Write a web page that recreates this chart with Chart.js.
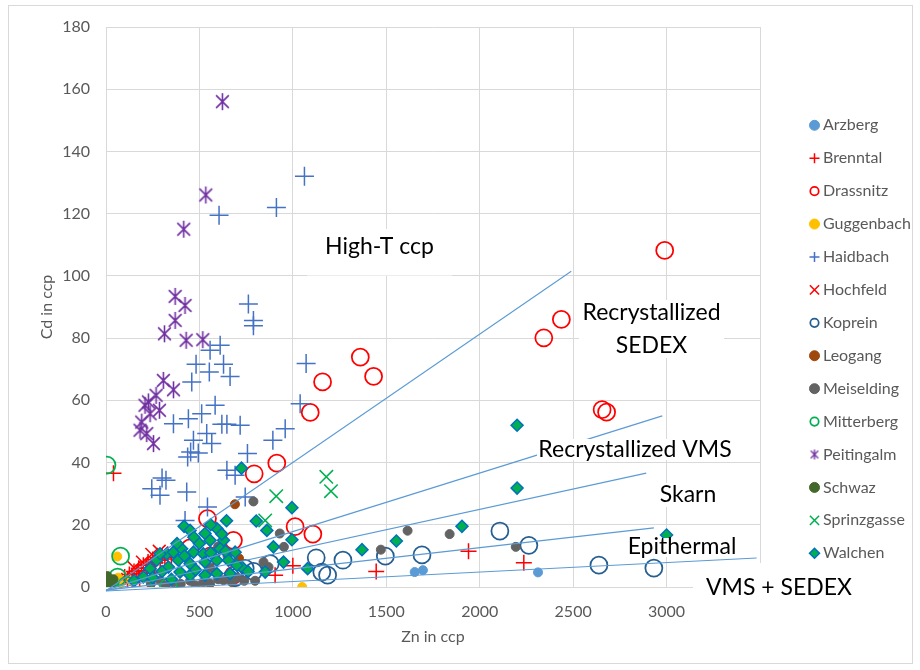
<!DOCTYPE html>
<html>
<head>
<meta charset="utf-8">
<script src="https://cdn.jsdelivr.net/npm/chart.js"></script>
<style>
  html, body { margin: 0; padding: 0; background: #ffffff; }
  canvas { display: block; }
</style>
</head>
<body>
<canvas id="chart" width="920" height="670"></canvas>
<script>
// Zn and Cd contents of chalcopyrite (ccp), one [Zn, Cd] pair per analysis
const arzberg = [[1652, 4.8], [1696, 5.4], [2312, 4.7]];
const brenntal = [
  [40, 36.6], [1000, 6.8], [905, 3.8], [1446, 5.0], [1940, 11.5], [2236, 7.8],
  [85, 2.0], [100, 3.2], [115, 2.6], [125, 4.0], [140, 3.4], [150, 5.0], [165, 4.3],
  [175, 6.0], [190, 5.2], [200, 7.0], [215, 6.2], [225, 8.0], [240, 7.2], [250, 8.8],
  [265, 7.8], [275, 9.4], [290, 8.6], [300, 10.0], [315, 9.0], [330, 10.5], [350, 9.6],
  [140, 1.5], [180, 2.5], [220, 3.5], [260, 4.5], [60, 1.0]
];
const drassnitz = [
  [2990, 108.2], [2437, 86.0], [2343, 80.1], [2655, 57.0], [2679, 56.2],
  [1361, 73.9], [1432, 67.7], [1159, 65.9], [1093, 56.1], [914, 39.8], [793, 36.4],
  [1012, 19.4], [1107, 17.0], [543, 22.0], [682, 15.0], [450, 12.6], [682, 3.8], [560, 10.0]
];
const guggenbach = [[60, 9.8], [1050, 0.0], [65, 3.0], [135, 2.0], [75, 1.0]];
const haidbach = [
  [605, 119.5], [912, 122], [1062, 132], [762, 91], [789, 85.7], [789, 84], [611, 77.7],
  [557, 76.1], [482, 71.6], [553, 69.1], [629, 71.6], [664, 67.7], [459, 65.9], [1071, 71.8],
  [1039, 58.9], [959, 50.9], [893, 47.2], [620, 52.3], [647, 52.3], [718, 52], [584, 58.4],
  [512, 55.7], [441, 54.1], [361, 52.5], [468, 47.2], [566, 46.1], [539, 49.3], [437, 41.8],
  [453, 43.4], [494, 43.1], [757, 42.9], [321, 34.3], [300, 35.0], [245, 31.6], [289, 29.5],
  [432, 30.5], [647, 37.5], [691, 35.9], [745, 28.9], [543, 25.7], [423, 21.4]
];
const hochfeld = [[245, 10.5], [195, 8.0], [285, 11.5], [150, 6.2]];
const koprein = [
  [2108, 18.0], [2263, 13.4], [2638, 7.0], [2932, 6.1], [1495, 9.9], [1691, 10.3],
  [1268, 8.6], [1186, 3.8], [1155, 4.8], [1125, 9.4], [879, 7.5], [745, 6.0], [790, 5.0], [690, 3.0]
];
const leogang = [[690, 26.6], [712, 9.2]];
const meiselding = [
  [789, 27.5], [930, 17.2], [952, 12.9], [1471, 12.0], [1614, 18.1], [1839, 17.0], [2193, 12.9],
  [843, 8.0], [870, 6.4], [798, 2.0], [673, 1.6], [629, 2.2], [557, 1.1], [240, 1.0], [290, 2.0],
  [320, 0.5], [360, 1.5], [400, 1.0], [450, 2.0], [480, 0.5], [520, 1.5], [600, 2.5], [700, 3.0],
  [740, 2.0], [600, 13.0], [650, 10.0], [560, 6.0]
];
const mitterberg = [[5, 39.2], [78, 9.9], [5, 0.0], [15, 1.0], [62, 3.2], [110, 0.5], [200, 0.0], [334, 0.0]];
const peitingalm = [
  [623, 156], [534, 126], [416, 115], [370, 93.4], [423, 90.5], [370, 85.7], [313, 81.4],
  [429, 79.3], [518, 79.5], [307, 66.4], [361, 63.4], [227, 59.5], [268, 61.6], [209, 58.4],
  [286, 56.8], [236, 55.7], [182, 50.4], [218, 49.3], [254, 46.1], [191, 53.0]
];
const schwaz = [[5, 3.0], [10, 2.0], [25, 1.0], [0, 0.5], [15, 0.0], [40, 2.5], [8, 3.5]];
const sprinzgasse = [[1179, 35.4], [1204, 30.8], [911, 29.2], [852, 21.4]];
const walchen = [
  [2200, 52.0], [2200, 31.8], [1905, 19.5], [3000, 16.7], [1554, 14.8], [1370, 12.0],
  [995, 25.5], [804, 21.2], [861, 18.2], [896, 12.9], [995, 15.2], [950, 8.0], [1079, 5.9],
  [725, 38.2], [645, 21.3], [418, 19.5], [450, 18.2], [530, 17.2], [593, 18.8], [557, 15.0],
  [629, 15.0], [611, 12.3], [691, 11.2], [325, 10.7], [361, 11.2], [405, 12.3], [468, 11.2],
  [521, 10.7], [387, 8.6], [450, 7.5], [530, 8.0], [593, 8.6], [655, 8.6], [727, 6.4],
  [334, 6.4], [396, 4.8], [450, 3.8], [530, 3.8], [593, 4.3], [664, 4.3], [271, 8.6],
  [289, 10.7], [236, 5.9], [200, 3.2], [852, 4.8], [500, 14.0], [560, 20.0], [470, 16.0],
  [380, 14.0], [620, 17.0], [700, 7.0], [760, 5.0], [300, 5.0], [350, 2.5], [250, 3.0],
  [150, 2.0], [420, 10.0], [480, 5.5], [560, 11.0], [640, 11.5]
];

const seriesNames = ['Arzberg', 'Brenntal', 'Drassnitz', 'Guggenbach', 'Haidbach', 'Hochfeld',
  'Koprein', 'Leogang', 'Meiselding', 'Mitterberg', 'Peitingalm', 'Schwaz', 'Sprinzgasse', 'Walchen'];
const seriesData = [arzberg, brenntal, drassnitz, guggenbach, haidbach, hochfeld,
  koprein, leogang, meiselding, mitterberg, peitingalm, schwaz, sprinzgasse, walchen];

// Field boundaries through the origin: [Zn, Cd] at each end
const fieldLines = [
  [[0, -1.2], [2490, 101.5]],
  [[0, -1.0], [2977, 55.0]],
  [[0, -1.2], [2891, 36.6]],
  [[0, -1.0], [2932, 19.0]],
  [[0, -1.3], [3482, 9.3]]
];
const fieldNames = [['High-T ccp'], ['Recrystallized', 'SEDEX'], ['Recrystallized VMS'],
  ['Skarn'], ['Epithermal'], ['VMS + SEDEX']];

const xTitle = 'Zn in ccp';
const yTitle = 'Cd in ccp';
const xMax = 3500, xStep = 500;
const yMax = 180, yStep = 20;

const FONT = "Lato, 'Open Sans', 'Liberation Sans', sans-serif";
const TEXT_GREY = '#595959';

// Excel-like asterisk marker (X with a vertical bar)
function makeStar(size, color, lw) {
  const c = document.createElement('canvas');
  c.width = size; c.height = size;
  const g = c.getContext('2d');
  const m = size / 2, r = size / 2 - 1;
  g.strokeStyle = color; g.lineWidth = lw;
  g.beginPath();
  g.moveTo(m - r * 0.75, m - r * 0.75); g.lineTo(m + r * 0.75, m + r * 0.75);
  g.moveTo(m + r * 0.75, m - r * 0.75); g.lineTo(m - r * 0.75, m + r * 0.75);
  g.moveTo(m, m - r); g.lineTo(m, m + r);
  g.stroke();
  return c;
}
const starBig = makeStar(19, '#7030A0', 1.6);
const starSmall = makeStar(12, '#7030A0', 1.3);

const styles = [
  { pointStyle: 'circle', radius: 4.5, bg: '#5B9BD5', border: '#5B9BD5', bw: 1, lr: 5 },
  { pointStyle: 'cross', radius: 8, bg: '#FF0000', border: '#FF0000', bw: 1.5, lr: 5 },
  { pointStyle: 'circle', radius: 8.5, bg: 'rgba(0,0,0,0)', border: '#FF0000', bw: 1.75, lr: 4.2 },
  { pointStyle: 'circle', radius: 4.5, bg: '#FFC000', border: '#FFC000', bw: 1, lr: 5 },
  { pointStyle: 'cross', radius: 9.5, bg: '#4472C4', border: '#4472C4', bw: 1.5, lr: 5 },
  { pointStyle: 'crossRot', radius: 9, bg: '#FF0000', border: '#FF0000', bw: 1.5, lr: 6.5 },
  { pointStyle: 'circle', radius: 8.5, bg: 'rgba(0,0,0,0)', border: '#255E91', bw: 1.75, lr: 4.2 },
  { pointStyle: 'circle', radius: 4.5, bg: '#9E480E', border: '#9E480E', bw: 1, lr: 5 },
  { pointStyle: 'circle', radius: 4.5, bg: '#636363', border: '#636363', bw: 1, lr: 5 },
  { pointStyle: 'circle', radius: 8.5, bg: 'rgba(0,0,0,0)', border: '#00B050', bw: 1.75, lr: 4.2 },
  { pointStyle: starBig, legendStyle: starSmall, radius: 9, bg: '#7030A0', border: '#7030A0', bw: 1.5, lr: 6 },
  { pointStyle: 'circle', radius: 4.5, bg: '#43682B', border: '#43682B', bw: 1, lr: 5 },
  { pointStyle: 'crossRot', radius: 9.5, bg: '#00B050', border: '#00B050', bw: 1.5, lr: 6.5 },
  { pointStyle: 'rectRot', radius: 6, bg: '#00B050', border: '#0070C0', bw: 1.5, lr: 5 }
];

const datasets = seriesNames.map((name, i) => ({
  label: name,
  data: seriesData[i].map(p => ({ x: p[0], y: p[1] })),
  pointStyle: styles[i].pointStyle,
  pointRadius: styles[i].radius,
  pointHoverRadius: styles[i].radius,
  backgroundColor: styles[i].bg,
  borderColor: styles[i].border,
  borderWidth: styles[i].bw,
  pointBorderWidth: styles[i].bw,
  showLine: false,
  order: 100 - i
}));

fieldLines.forEach((ln, i) => {
  datasets.push({
    label: 'boundary ' + (i + 1),
    data: ln.map(p => ({ x: p[0], y: p[1] })),
    showLine: true,
    borderColor: '#5B9BD5',
    borderWidth: 1.1,
    pointRadius: 0,
    fill: false,
    clip: 6,
    order: 0
  });
});

// Field names sit in white text boxes: [centre x, centre y, box left, top, right, bottom]
const labelBoxes = [
  [379.5, 247, 307, 229, 452, 275.5],
  [651.5, 313, 579, 300, 724, 358],
  [635, 450, 537, 439, 733, 460],
  [688, 495, 655, 483, 721, 507],
  [682, 547, 624, 538, 740, 557],
  [779, 588, 693, 563, 870, 622]
];

const decorPlugin = {
  id: 'decor',
  beforeDraw(chart) {
    const ctx = chart.ctx;
    ctx.save();
    ctx.fillStyle = '#ffffff';
    ctx.fillRect(0, 0, chart.width, chart.height);
    ctx.strokeStyle = '#D9D9D9';
    ctx.lineWidth = 1;
    ctx.strokeRect(8.5, 5.5, 904, 658);
    ctx.restore();
  },
  afterDraw(chart) {
    const ctx = chart.ctx;
    ctx.save();
    // field name boxes
    labelBoxes.forEach((b, i) => {
      ctx.fillStyle = '#ffffff';
      ctx.fillRect(b[2], b[3], b[4] - b[2], b[5] - b[3]);
      ctx.fillStyle = '#000000';
      ctx.font = '23px ' + FONT;
      ctx.textAlign = 'center';
      ctx.textBaseline = 'middle';
      const lines = fieldNames[i];
      lines.forEach((t, k) => {
        ctx.fillText(t, b[0], b[1] + (k - (lines.length - 1) / 2) * 33 + (lines.length > 1 ? 16.5 : 0));
      });
    });
    // legend
    const lx = 814.5, tx = 823, y0 = 125.3, dy = 32.92;
    chart.data.datasets.slice(0, seriesNames.length).forEach((ds, i) => {
      const st = styles[i];
      const y = y0 + i * dy;
      ctx.fillStyle = st.bg;
      ctx.strokeStyle = st.border;
      ctx.lineWidth = st.bw;
      Chart.helpers.drawPoint(ctx, {
        pointStyle: st.legendStyle || st.pointStyle,
        radius: st.lr,
        rotation: 0,
        borderWidth: st.bw
      }, lx, y);
      ctx.fillStyle = TEXT_GREY;
      ctx.font = '16px ' + FONT;
      ctx.textAlign = 'left';
      ctx.textBaseline = 'middle';
      ctx.fillText(ds.label, tx, y);
    });
    ctx.restore();
  }
};

const plainNumber = v => String(v);

new Chart(document.getElementById('chart'), {
  type: 'scatter',
  data: { datasets },
  options: {
    responsive: false,
    animation: false,
    devicePixelRatio: 1,
    layout: { padding: { left: 0, top: 27, right: 160, bottom: 0 } },
    plugins: {
      legend: { display: false },
      tooltip: { enabled: false }
    },
    scales: {
      x: {
        type: 'linear',
        min: 0, max: xMax,
        afterFit(scale) { scale.height = 83; },
        ticks: { stepSize: xStep, color: TEXT_GREY, font: { family: FONT, size: 16 }, padding: 15, callback: plainNumber },
        grid: { color: '#D9D9D9', drawTicks: false, lineWidth: 1 },
        border: { color: '#D9D9D9' },
        title: { display: true, text: xTitle, color: TEXT_GREY, font: { family: FONT, size: 16 }, padding: { top: 0, bottom: 24 } }
      },
      y: {
        type: 'linear',
        min: 0, max: yMax,
        afterFit(scale) { scale.width = 106; },
        ticks: { stepSize: yStep, color: TEXT_GREY, font: { family: FONT, size: 16 }, padding: 16, callback: plainNumber },
        grid: { color: '#D9D9D9', drawTicks: false, lineWidth: 1 },
        border: { color: '#D9D9D9' },
        title: { display: true, text: yTitle, color: TEXT_GREY, font: { family: FONT, size: 16 }, padding: { top: 37, bottom: 0 } }
      }
    }
  },
  plugins: [decorPlugin]
});
</script>
</body>
</html>
